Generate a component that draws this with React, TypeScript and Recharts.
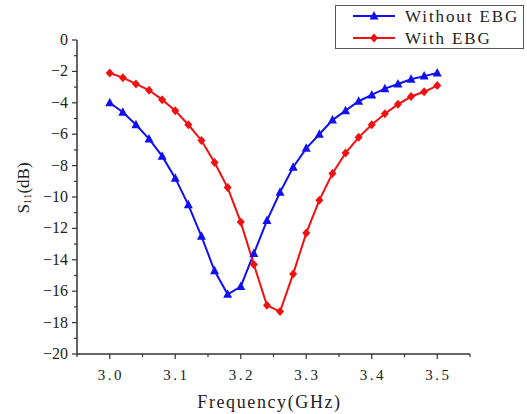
import { LineChart, Line, XAxis, YAxis } from "recharts";

// frequency sweep points (GHz)
const FREQ = [
  3.0, 3.02, 3.04, 3.06, 3.08, 3.1, 3.12, 3.14, 3.16, 3.18, 3.2, 3.22, 3.24,
  3.26, 3.28, 3.3, 3.32, 3.34, 3.36, 3.38, 3.4, 3.42, 3.44, 3.46, 3.48, 3.5,
];

// S11 in dB
const WITHOUT_EBG = [
  -4.0, -4.6, -5.4, -6.3, -7.4, -8.8, -10.5, -12.5, -14.7, -16.2, -15.7, -13.6, -11.5,
  -9.7, -8.1, -6.9, -6.0, -5.1, -4.5, -3.9, -3.5, -3.1, -2.8, -2.5, -2.3, -2.1,
];
const WITH_EBG = [
  -2.1, -2.4, -2.8, -3.2, -3.8, -4.5, -5.4, -6.4, -7.8, -9.4, -11.6, -14.3, -16.9,
  -17.3, -14.9, -12.3, -10.2, -8.5, -7.2, -6.2, -5.4, -4.7, -4.1, -3.6, -3.3, -2.9,
];

// major ticks carry labels, the in-between ones are short unlabelled marks
const X_MAJOR = [3.0, 3.1, 3.2, 3.3, 3.4, 3.5];
const X_TICKS = [2.95, 3.0, 3.05, 3.1, 3.15, 3.2, 3.25, 3.3, 3.35, 3.4, 3.45, 3.5, 3.55];
const Y_TICKS = [
  0, -1, -2, -3, -4, -5, -6, -7, -8, -9, -10, -11, -12, -13, -14, -15, -16, -17, -18, -19, -20,
];

const BLUE = "#1010f0";
const RED = "#f01010";
const AXIS = "#333";
const FONT = "'Liberation Serif', 'Times New Roman', serif";

const data = FREQ.map((f, i) => ({ f, without: WITHOUT_EBG[i], with: WITH_EBG[i] }));

function Triangle({ cx, cy, color }: any) {
  return <polygon points={`${cx},${cy - 5} ${cx - 4.5},${cy + 3.5} ${cx + 4.5},${cy + 3.5}`} fill={color} />;
}

function Diamond({ cx, cy, color }: any) {
  return <polygon points={`${cx},${cy - 4.5} ${cx + 4},${cy} ${cx},${cy + 4.5} ${cx - 4},${cy}`} fill={color} />;
}

const triDot = (p: any) => <Triangle key={p.index} cx={p.cx} cy={p.cy} color={BLUE} />;
const diaDot = (p: any) => <Diamond key={p.index} cx={p.cx} cy={p.cy} color={RED} />;

function XTick({ x, y, payload }: any) {
  const v = payload.value;
  const major = X_MAJOR.some((m) => Math.abs(m - v) < 1e-6);
  return (
    <g>
      <line x1={x} x2={x} y1={y} y2={y + (major ? 5 : 3)} stroke={AXIS} strokeWidth={1.2} />
      {major && (
        <text x={x + 1} y={y + 26} textAnchor="middle" fontFamily={FONT} fontSize={15} letterSpacing={2.5} fill="#222">
          {v.toFixed(1)}
        </text>
      )}
    </g>
  );
}

function YTick({ x, y, payload }: any) {
  const v = payload.value;
  const major = v % 2 === 0;
  return (
    <g>
      <line x1={x} x2={x - (major ? 5 : 3)} y1={y} y2={y} stroke={AXIS} strokeWidth={1.2} />
      {major && (
        <text x={x - 9} y={y + 5} textAnchor="end" fontFamily={FONT} fontSize={16} fill="#222">
          {v < 0 ? `\u2212${-v}` : `${v}`}
        </text>
      )}
    </g>
  );
}

function LegendBox() {
  const rows = [
    { name: "Without EBG", color: BLUE, Mark: Triangle },
    { name: "With EBG", color: RED, Mark: Diamond },
  ];
  return (
    <div
      style={{
        position: "absolute",
        left: 335,
        top: 5,
        border: "1px solid #555",
        width: 189,
        height: 44,
        background: "#fff",
        boxSizing: "border-box",
      }}
    >
      <svg width={187} height={42} style={{ display: "block" }}>
        {rows.map((r, i) => {
          const y = 10 + i * 22;
          return (
            <g key={r.name}>
              <line x1={17} x2={59} y1={y} y2={y} stroke={r.color} strokeWidth={2} />
              <r.Mark cx={38} cy={y} color={r.color} />
              <text x={69} y={y + 6} fontFamily={FONT} fontSize={17} letterSpacing={1.9} fill="#222">
                {r.name}
              </text>
            </g>
          );
        })}
      </svg>
    </div>
  );
}

const renderYLabel = () => (
  <text transform="translate(29, 188) rotate(-90)" textAnchor="middle" fontFamily={FONT} fontSize={17} fill="#222">
    S<tspan fontSize={11} dy={2}>11</tspan>
    <tspan dy={-2}>(dB)</tspan>
  </text>
);

const renderXLabel = (props: any) => {
  const { viewBox } = props;
  const cx = viewBox.x + viewBox.width / 2;
  return (
    <text x={cx - 4} y={408} textAnchor="middle" fontFamily={FONT} fontSize={18} letterSpacing={1.6} fill="#222">
      Frequency(GHz)
    </text>
  );
};

export default function App() {
  return (
    <div style={{ position: "absolute", left: 0, top: 0, width: 527, height: 414, background: "#fff" }}>
      <LineChart width={527} height={414} data={data} margin={{ top: 40, right: 57, left: 0, bottom: 0 }}>
        <XAxis
          dataKey="f"
          type="number"
          domain={[2.95, 3.55]}
          ticks={X_TICKS}
          interval={0}
          tickSize={0}
          tickMargin={0}
          tickLine={false}
          tick={<XTick />}
          height={60}
          axisLine={{ stroke: AXIS, strokeWidth: 1.5 }}
          label={{ content: renderXLabel }}
          allowDataOverflow
        />
        <YAxis
          type="number"
          domain={[-20, 0]}
          ticks={Y_TICKS}
          interval={0}
          tickSize={0}
          tickMargin={0}
          tickLine={false}
          tick={<YTick />}
          width={77}
          axisLine={{ stroke: AXIS, strokeWidth: 1.5 }}
          label={{ content: renderYLabel }}
        />
        <Line
          dataKey="without"
          name="Without EBG"
          stroke={BLUE}
          strokeWidth={2}
          dot={triDot}
          isAnimationActive={false}
        />
        <Line
          dataKey="with"
          name="With EBG"
          stroke={RED}
          strokeWidth={2}
          dot={diaDot}
          isAnimationActive={false}
        />
      </LineChart>
      <LegendBox />
    </div>
  );
}
